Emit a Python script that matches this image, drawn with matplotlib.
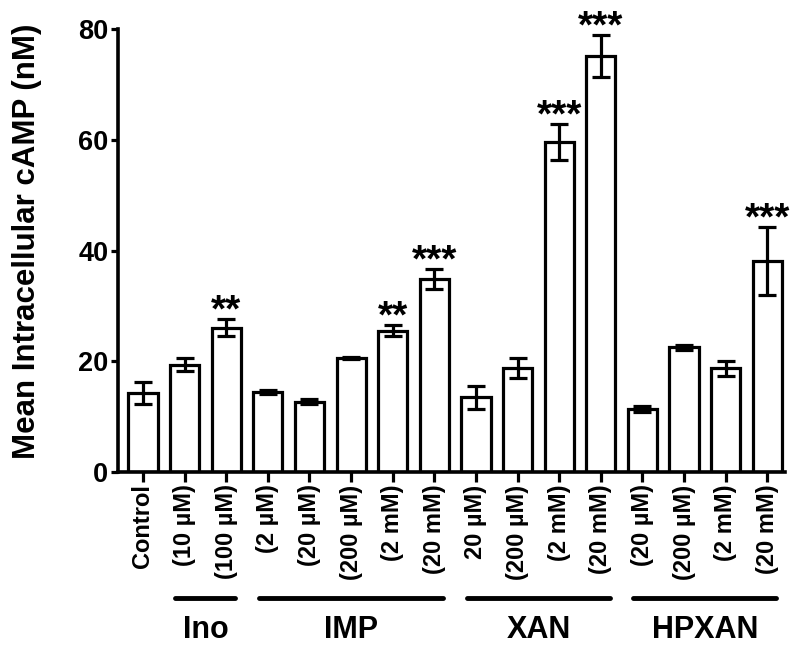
import numpy as np
import matplotlib
matplotlib.use("Agg")
import matplotlib.pyplot as plt
from matplotlib import transforms, font_manager

# Arial-like bold font
bold_path = None
for f in font_manager.findSystemFonts():
    if f.endswith("LiberationSans-Bold.ttf"):
        bold_path = f
if bold_path:
    fp = font_manager.FontProperties(fname=bold_path)
else:
    fp = font_manager.FontProperties(family="DejaVu Sans", weight="bold")

# data
labels = ["Control", "(10 µM)", "(100 µM)",
          "(2 µM)", "(20 µM)", "(200 µM)", "(2 mM)", "(20 mM)",
          "20 µM)", "(200 µM)", "(2 mM)", "(20 mM)",
          "(20 µM)", "(200 µM)", "(2 mM)", "(20 mM)"]
means = [14.3, 19.4, 26.1,
         14.5, 12.7, 20.6, 25.5, 34.9,
         13.5, 18.8, 59.6, 75.2,
         11.4, 22.5, 18.7, 38.1]
sems = [2.0, 1.2, 1.5,
        0.4, 0.5, 0.2, 1.0, 1.8,
        2.1, 1.8, 3.2, 3.8,
        0.5, 0.5, 1.3, 6.1]
stars = ["", "", "**",
         "", "", "", "**", "***",
         "", "", "***", "***",
         "", "", "", "***"]
groups = ["Ino", "IMP", "XAN", "HPXAN"]
group_first = [1, 3, 8, 12]
group_last = [2, 7, 11, 15]

x = np.arange(len(means))

fig = plt.figure(figsize=(8, 6.51), dpi=100)
ax = fig.add_axes([0.1475, 0.275, 0.834, 0.68])

ax.bar(x, means, width=0.7, color="white", edgecolor="black", linewidth=2.3, zorder=2)
ax.errorbar(x, means, yerr=sems, fmt="none", ecolor="black", elinewidth=2.3,
            capsize=6.5, capthick=2.3, zorder=3)

for xi, m, s, st in zip(x, means, sems, stars):
    if st:
        ax.text(xi, m + s - 0.4, st, ha="center", va="baseline", fontproperties=fp,
                fontsize=28)

ax.set_xlim(-0.6, 15.43)
ax.set_ylim(0, 80)
ax.set_yticks([0, 20, 40, 60, 80])
ax.set_xticks(x)
ax.set_xticklabels(labels, rotation=90, fontproperties=fp, fontsize=17)
ax.set_yticklabels(["0", "20", "40", "60", "80"], fontproperties=fp, fontsize=19.5)
ax.tick_params(axis="y", width=2.3, length=5, pad=2)
ax.tick_params(axis="x", width=2.3, length=7, pad=2)

ax.set_ylabel("Mean Intracellular cAMP (nM)", fontproperties=fp, fontsize=22.5)
ax.yaxis.set_label_coords(-0.114, 0.52)

for side in ["top", "right"]:
    ax.spines[side].set_visible(False)
for side in ["left", "bottom"]:
    ax.spines[side].set_linewidth(2.6)

# group lines + names under the tick labels
trans = transforms.blended_transform_factory(ax.transData, fig.transFigure)
for name, a, b in zip(groups, group_first, group_last):
    ax.plot([a - 0.22, b + 0.22], [0.082, 0.082], transform=trans, color="black",
            linewidth=3.5, solid_capstyle="round", clip_on=False)
    ax.text((a + b) / 2, 0.032, name, transform=trans, ha="center", va="center",
            fontproperties=fp, fontsize=22)

fig.savefig("out.png", dpi=100)
